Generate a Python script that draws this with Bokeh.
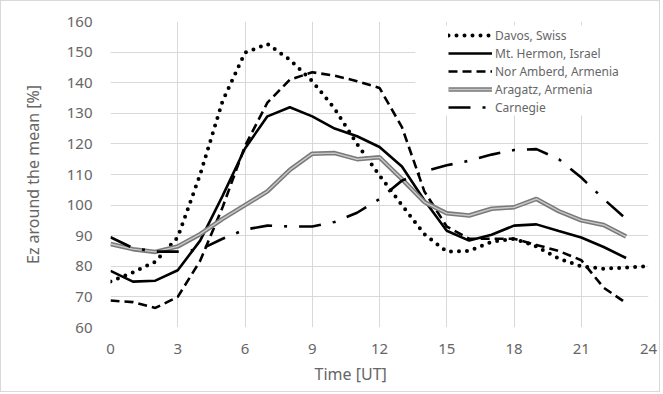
from bokeh.plotting import figure
from bokeh.models import Range1d, FixedTicker, Legend, LegendItem, BoxAnnotation, Title
from bokeh.embed import file_html
from bokeh.resources import INLINE

# ---- data ----
hours = list(range(0, 24))
hours_davos = list(range(0, 25))
davos = [75, 78, 81.5, 89.5, 110, 134, 149.8, 152.7, 147.5, 140.5, 131.5, 120,
         109.7, 100, 90.5, 84.8, 85, 88, 89, 86.5, 82.5, 80, 79.2, 79.6, 80]
hermon = [78.5, 75, 75.3, 78.7, 88.4, 103, 118.5, 129, 132, 129, 125, 122.5,
          119, 112.6, 101.6, 91.6, 88.4, 90.3, 93.3, 93.7, 91.5, 89.4, 86.3, 82.7]
nor_amberd = [68.8, 68.3, 66.4, 70, 81.8, 99.3, 119.3, 133.5, 141, 143.4, 142.3, 140.5,
              138.3, 125.5, 104.5, 93, 89, 89, 89, 87, 85, 82, 73, 68]
aragatz = [87.3, 85.6, 84.7, 86.5, 90.5, 95.5, 100, 104.5, 111.5, 116.8, 117, 115,
           115.6, 108.5, 101, 97.3, 96.6, 98.8, 99.3, 102, 98, 95, 93.5, 89.7]
carnegie = [89.5, 86, 84.8, 84.8, 85.5, 89, 92, 93.3, 93, 93, 94.5, 97.5,
            102, 108, 111, 113, 114.5, 116.5, 118, 118.3, 115, 109, 102, 95.5]
series_names = ["Davos, Swiss", "Mt. Hermon, Israel", "Nor Amberd, Armenia",
                "Aragatz, Armenia", "Carnegie"]
x_ticks = [0, 3, 6, 9, 12, 15, 18, 21, 24]
y_ticks = [60, 70, 80, 90, 100, 110, 120, 130, 140, 150, 160]
x_title = "Time [UT]"
y_title = "Ez around the mean [%]"

FONT = "Noto Sans"
TXT = "#666666"
GRID = "#d9d9d9"

p = figure(width=660, height=392, output_backend="svg", toolbar_location=None,
           x_range=Range1d(0, 24), y_range=Range1d(60, 160),
           min_border_left=109, min_border_right=13, min_border_top=20,
           min_border_bottom=66, outline_line_color=None)
p.styles = {"border": "1px solid #d9d9d9"}

for ax in (p.xaxis[0], p.yaxis[0]):
    ax.axis_line_color = None
    ax.major_tick_line_color = None
    ax.minor_tick_line_color = None
    ax.major_label_text_font = FONT
    ax.major_label_text_font_size = "15px"
    ax.major_label_text_color = TXT
    ax.axis_label_text_font = FONT
    ax.axis_label_text_font_size = "16px"
    ax.axis_label_text_color = TXT
    ax.axis_label_text_font_style = "normal"

p.xaxis.ticker = FixedTicker(ticks=x_ticks)
p.yaxis.ticker = FixedTicker(ticks=y_ticks)
p.xaxis.major_label_standoff = 10
p.yaxis.major_label_standoff = 12
p.yaxis.axis_label = y_title
p.yaxis.axis_label_standoff = 20

p.xgrid.ticker = FixedTicker(ticks=x_ticks)
p.ygrid.ticker = FixedTicker(ticks=y_ticks)
p.grid.grid_line_color = GRID
p.grid.grid_line_width = 1

xt = Title(text=x_title, align="left", offset=204, text_font=FONT,
           text_font_size="16px", text_color=TXT, text_font_style="normal",
           standoff=9)
p.add_layout(xt, "below")

r_davos = p.line(hours_davos, davos, line_color="black", line_width=4,
                 line_dash="0 8", line_cap="round")
r_hermon = p.line(hours, hermon, line_color="black", line_width=2.6)
r_nor = p.line(hours, nor_amberd, line_color="black", line_width=2.6, line_dash="9 5")
r_ara_o = p.line(hours, aragatz, line_color="#7a7a7a", line_width=4.5)
r_ara_i = p.line(hours, aragatz, line_color="#c8c8c8", line_width=1.4)
r_car = p.line(hours, carnegie, line_color="black", line_width=2.6,
               line_dash="22 12 3 12")

# white box behind the legend (covers gridlines)
p.add_layout(BoxAnnotation(left=13.6, right=24, bottom=129.3, top=158.7,
                           fill_color="white", fill_alpha=1, line_color=None))

legend = Legend(items=[
    LegendItem(label=series_names[0], renderers=[r_davos]),
    LegendItem(label=series_names[1], renderers=[r_hermon]),
    LegendItem(label=series_names[2], renderers=[r_nor]),
    LegendItem(label=series_names[3], renderers=[r_ara_o, r_ara_i]),
    LegendItem(label=series_names[4], renderers=[r_car]),
], location=(338, 211), orientation="vertical",
    glyph_width=44, glyph_height=18, label_height=18, spacing=0,
    label_standoff=3, padding=0, margin=0,
    label_text_font=FONT, label_text_font_size="12px", label_text_color=TXT,
    background_fill_alpha=0, border_line_color=None)
p.add_layout(legend)

open("out.html", "w").write(file_html(p, INLINE))
